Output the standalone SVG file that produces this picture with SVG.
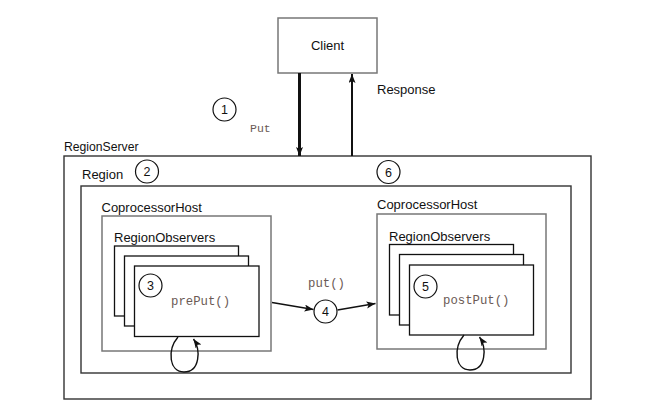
<svg xmlns="http://www.w3.org/2000/svg" width="651" height="416" viewBox="0 0 651 416">
<style>
.lbl{font-family:"Liberation Sans",Arial,sans-serif;font-size:13px;fill:#111}
.num{font-family:"Liberation Sans",Arial,sans-serif;font-size:12.5px;fill:#111;text-anchor:middle}
.code{font-family:"Liberation Mono","Courier New",monospace;font-size:12.3px;fill:#6b5a55}
.box{fill:#fff;stroke:#333;stroke-width:1.4}
.gbox{fill:#fff;stroke:#777;stroke-width:1.5}
.obs{fill:#fff;stroke:#111;stroke-width:1.3}
.circ{fill:#fff;stroke:#111;stroke-width:1.2}
.con{fill:none;stroke:#111;stroke-width:1.4}
</style>
<defs>
<marker id="ah" markerUnits="userSpaceOnUse" markerWidth="10" markerHeight="8" refX="9" refY="3.5" orient="auto">
<path d="M0,0 L9,3.5 L0,7 L2,3.5 z" fill="#111"/>
</marker>
</defs>
<rect width="651" height="416" fill="#fff"/>

<g id="regionserver">
<rect class="box" x="64" y="156" width="527" height="243"/>
<text class="lbl" x="64" y="151" style="font-size:12.2px">RegionServer</text>
</g>
<g id="region">
<rect class="box" x="81" y="186" width="490" height="187"/>
<text class="lbl" x="82" y="178.5">Region</text>
</g>
<g id="client">
<rect class="gbox" x="278" y="18" width="99" height="55"/>
<text class="lbl" x="327.5" y="50" text-anchor="middle">Client</text>
</g>
<g id="coprocessorhost1">
<rect class="gbox" x="102" y="216" width="169" height="135"/>
<text class="lbl" x="101.5" y="211.5">CoprocessorHost</text>
</g>
<g id="regionobservers1">
<text class="lbl" x="114" y="242">RegionObservers</text>
<rect class="obs" x="114.5" y="246" width="124" height="70"/>
<rect class="obs" x="124.5" y="256" width="124" height="70"/>
<rect class="obs" x="134.5" y="266" width="124.5" height="70.5"/>
<text class="code" x="171" y="305">prePut()</text>
</g>
<g id="coprocessorhost2">
<rect class="gbox" x="377" y="214" width="169" height="135"/>
<text class="lbl" x="377" y="209">CoprocessorHost</text>
</g>
<g id="regionobservers2">
<text class="lbl" x="389" y="240.5">RegionObservers</text>
<rect class="obs" x="389.5" y="244.5" width="124" height="70.5"/>
<rect class="obs" x="399.5" y="254.5" width="124" height="70.5"/>
<rect class="obs" x="409.5" y="265" width="124" height="70"/>
<text class="code" x="443" y="304">postPut()</text>
</g>

<g id="connectors">
<line x1="299.5" y1="73" x2="299.5" y2="156" stroke="#111" stroke-width="3" marker-end="url(#ah)"/>
<line x1="352" y1="156" x2="352" y2="74" stroke="#111" stroke-width="2" marker-end="url(#ah)"/>
<line class="con" x1="272" y1="302.5" x2="313.5" y2="309.5" marker-end="url(#ah)"/>
<line class="con" x1="337.5" y1="310" x2="375.5" y2="303.5" marker-end="url(#ah)"/>
<path class="con" d="M178,337 C167,350 169,372 184,372 C200,372 201,350 193.5,339" marker-end="url(#ah)"/>
<path class="con" d="M464,335 C453,348 455,370 470,370 C486,370 487,348 479.5,337" marker-end="url(#ah)"/>
</g>

<g id="labels">
<text class="lbl" x="377" y="94">Response</text>
<text class="code" x="250" y="132" style="font-size:11.5px">Put</text>
<text class="code" x="308" y="287">put()</text>
</g>

<g id="step1"><circle class="circ" cx="224.5" cy="109.5" r="11.5"/><text class="num" x="224.5" y="114">1</text></g>
<g id="step2"><circle class="circ" cx="147" cy="171.5" r="11.5"/><text class="num" x="147" y="176">2</text></g>
<g id="step6"><circle class="circ" cx="388.5" cy="172" r="11.5"/><text class="num" x="388.5" y="176.5">6</text></g>
<g id="step3"><circle class="circ" cx="150.5" cy="285.5" r="11.5"/><text class="num" x="150.5" y="290">3</text></g>
<g id="step5"><circle class="circ" cx="425.5" cy="286.5" r="11.5"/><text class="num" x="425.5" y="291">5</text></g>
<g id="step4"><circle class="circ" cx="325.5" cy="311.5" r="11.5"/><text class="num" x="325.5" y="316">4</text></g>
</svg>
